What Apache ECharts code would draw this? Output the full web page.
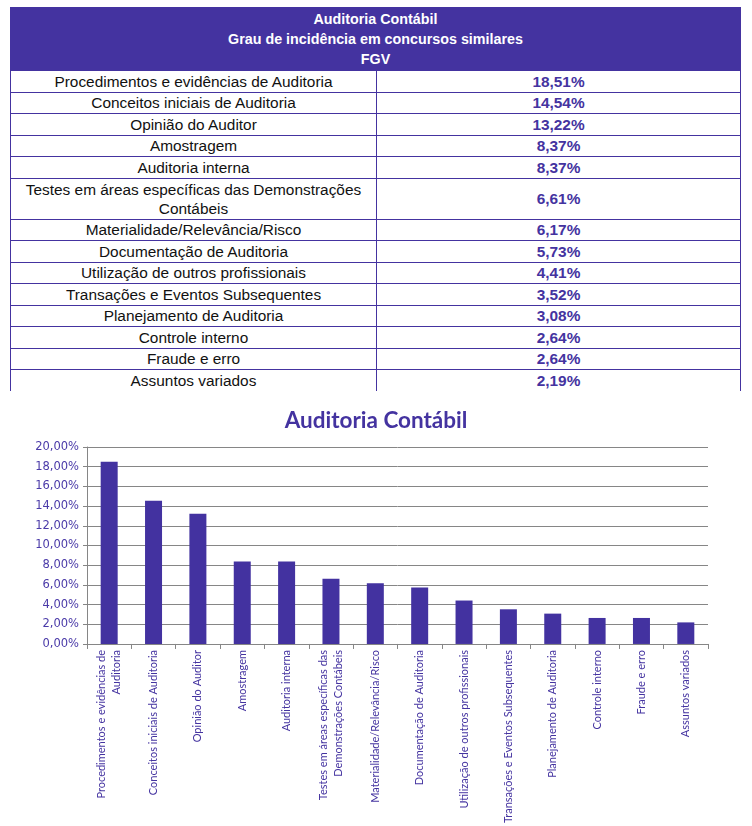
<!DOCTYPE html>
<html>
<head>
<meta charset="utf-8">
<script src="https://cdn.jsdelivr.net/npm/echarts@6/dist/echarts.min.js"></script>
<style>
  html, body { margin:0; padding:0; background:#fff; width:752px; height:826px; overflow:hidden; }
  #tbl { position:absolute; left:10px; top:7px; width:731px; border-collapse:collapse;
         font-family:"Liberation Sans",sans-serif; font-size:15.4px; }
  #tbl th { background:#4433A0; color:#fff; font-weight:bold; font-size:14.3px; line-height:20px;
            height:62px; padding:0; border:1px solid #4433A0; }
  #tbl td { border-left:1px solid #4433A0; border-right:1px solid #4433A0; border-top:1px solid #4433A0;
            padding:0; text-align:center; color:#111; line-height:19px; }
  #tbl td.v { color:#4433A0; font-weight:bold; font-size:15.4px; }
  #chart { position:absolute; left:0; top:395px; width:752px; height:431px; }
</style>
</head>
<body>
<table id="tbl"></table>
<div id="chart"></div>
<script>
const headerLines = ["Auditoria Contábil", "Grau de incidência em concursos similares", "FGV"];
const tableLabels = [
  "Procedimentos e evidências de Auditoria",
  "Conceitos iniciais de Auditoria",
  "Opinião do Auditor",
  "Amostragem",
  "Auditoria interna",
  "Testes em áreas específicas das Demonstrações<br>Contábeis",
  "Materialidade/Relevância/Risco",
  "Documentação de Auditoria",
  "Utilização de outros profissionais",
  "Transações e Eventos Subsequentes",
  "Planejamento de Auditoria",
  "Controle interno",
  "Fraude e erro",
  "Assuntos variados"
];
const axisLabels = [
  "Procedimentos e evidências de\nAuditoria",
  "Conceitos iniciais de Auditoria",
  "Opinião do Auditor",
  "Amostragem",
  "Auditoria interna",
  "Testes em áreas específicas das\nDemonstrações Contábeis",
  "Materialidade/Relevância/Risco",
  "Documentação de Auditoria",
  "Utilização de outros profissionais",
  "Transações e Eventos Subsequentes",
  "Planejamento de Auditoria",
  "Controle interno",
  "Fraude e erro",
  "Assuntos variados"
];
const values = [18.51, 14.54, 13.22, 8.37, 8.37, 6.61, 6.17, 5.73, 4.41, 3.52, 3.08, 2.64, 2.64, 2.19];
const chartTitle = "Auditoria Contábil";

const fmt = v => v.toFixed(2).replace('.', ',') + '%';

// build table
const tbl = document.getElementById('tbl');
let html = '<tr><th colspan="2">' + headerLines.join('<br>') + '</th></tr>';
tableLabels.forEach((lab, i) => {
  const h = lab.indexOf('<br>') >= 0 ? 41 : 21.5;
  html += '<tr style="height:' + h + 'px"><td style="width:365px">' + lab + '</td><td class="v">' + fmt(values[i]) + '</td></tr>';
});
tbl.innerHTML = html;

const chart = echarts.init(document.getElementById('chart'), null, {renderer:'canvas'});
chart.setOption({
  animation: false,
  title: {
    text: chartTitle, left: 'center', top: 9,
    textStyle: { color:'#4433A0', fontSize:22.5, fontWeight:'bold', fontFamily:'Lato, "DejaVu Sans", sans-serif' }
  },
  grid: { left: 87, right: 44, top: 52, bottom: 181 },
  xAxis: {
    type: 'category',
    data: axisLabels,
    axisLine: { lineStyle: { color:'#868686', width:1 } },
    axisTick: { show:true, length:5, alignWithLabel:false, lineStyle:{ color:'#868686' } },
    axisLabel: { interval:0, rotate:90, color:'#4433A0', fontSize:11, lineHeight:15,
                 fontFamily:'Lato, "DejaVu Sans", sans-serif', margin:6 }
  },
  yAxis: {
    type: 'value', min: 0, max: 20, interval: 2,
    axisLine: { show:true, lineStyle:{ color:'#868686' } },
    axisTick: { show:true, length:4, lineStyle:{ color:'#868686' } },
    splitLine: { lineStyle:{ color:'#868686', width:1 } },
    axisLabel: { formatter: fmt, color:'#4a3aa8', fontSize:11.5, margin:8,
                 fontFamily:'"DejaVu Sans", sans-serif' }
  },
  series: [{
    type: 'bar',
    data: values,
    barWidth: 17,
    itemStyle: { color:'#4332A0' }
  }]
});
</script>
</body>
</html>
